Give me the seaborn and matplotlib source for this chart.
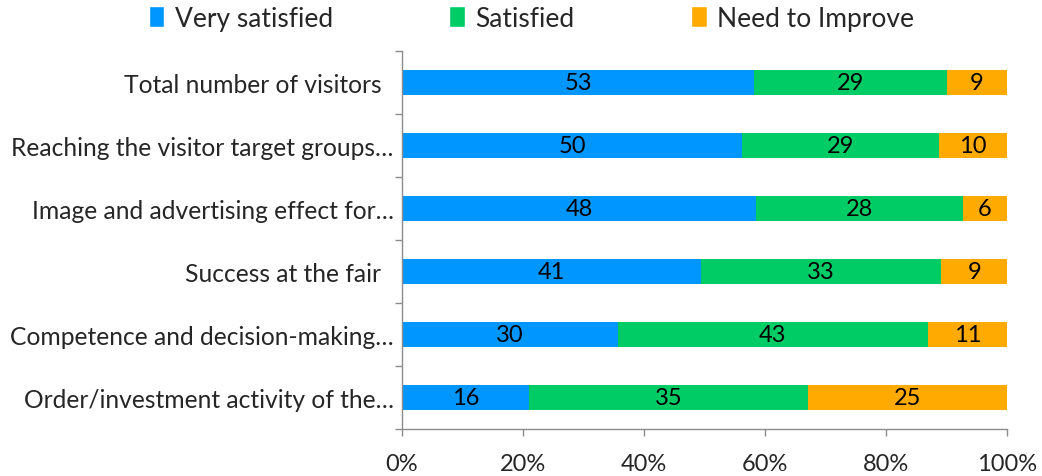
import numpy as np
import pandas as pd
import matplotlib
matplotlib.use("Agg")
import matplotlib.pyplot as plt
from matplotlib.patches import Patch
from matplotlib.ticker import FixedLocator, PercentFormatter
import seaborn as sns

categories = [
    "Total number of visitors  ",
    "Reaching the visitor target groups…",
    "Image and advertising effect for…",
    "Success at the fair  ",
    "Competence and decision-making…",
    "Order/investment activity of the…",
]
very_satisfied = [53, 50, 48, 41, 30, 16]
satisfied = [29, 29, 28, 33, 43, 35]
need_to_improve = [9, 10, 6, 9, 11, 25]
series_names = ["Very satisfied", "Satisfied", "Need to Improve"]
colors = ["#0096FF", "#00CC66", "#FFAA00"]

sns.set_theme(style="white")
plt.rcParams["font.family"] = ["Lato", "DejaVu Sans"]

vs = np.array(very_satisfied, float)
sa = np.array(satisfied, float)
ni = np.array(need_to_improve, float)
total = vs + sa + ni
share = [vs / total * 100, sa / total * 100, ni / total * 100]
cum = np.cumsum(share, axis=0)

fig = plt.figure(figsize=(10.42, 4.77), dpi=100)
ax = fig.add_axes([402 / 1042, 1 - 430 / 477, 605 / 1042, 378 / 477])

# Cumulative layers drawn back to front give the stacked look
for i in [2, 1, 0]:
    df = pd.DataFrame({"category": categories, "value": cum[i]})
    sns.barplot(data=df, x="value", y="category", orient="h", color=colors[i],
                saturation=1, width=0.41, ax=ax, linewidth=0)

# Segment labels with the raw counts
for i, raw in enumerate([vs, sa, ni]):
    start = cum[i] - share[i]
    for j, v in enumerate(raw):
        ax.text(start[j] + share[i][j] / 2, j, f"{int(v)}", ha="center",
                va="center", fontsize=17, color="black")

ax.set_xlim(0, 100)
ax.set_ylim(5.5, -0.5)
ax.set_xlabel("")
ax.set_ylabel("")
ax.xaxis.set_major_locator(FixedLocator([0, 20, 40, 60, 80, 100]))
ax.xaxis.set_major_formatter(PercentFormatter(decimals=0))
ax.tick_params(axis="x", labelsize=17, length=5, width=1, color="#8c8c8c",
               direction="out", pad=12, bottom=True)
ax.tick_params(axis="y", which="major", labelsize=17.7, length=0, pad=6)
ax.yaxis.set_minor_locator(FixedLocator(np.arange(-0.5, 6, 1)))
ax.tick_params(axis="y", which="minor", length=5, width=1, color="#8c8c8c",
               direction="out", left=True)

for side in ["top", "right"]:
    ax.spines[side].set_visible(False)
for side in ["left", "bottom"]:
    ax.spines[side].set_color("#8c8c8c")
    ax.spines[side].set_linewidth(1)

handles = [Patch(facecolor=c, label=n) for c, n in zip(colors, series_names)]
fig.legend(handles=handles, loc="center", bbox_to_anchor=(0.51, 0.96), ncol=3,
           frameon=False, fontsize=19, handlelength=0.6, handleheight=0.85,
           handletextpad=0.4, columnspacing=4.4)

fig.savefig("out.png", dpi=100)
